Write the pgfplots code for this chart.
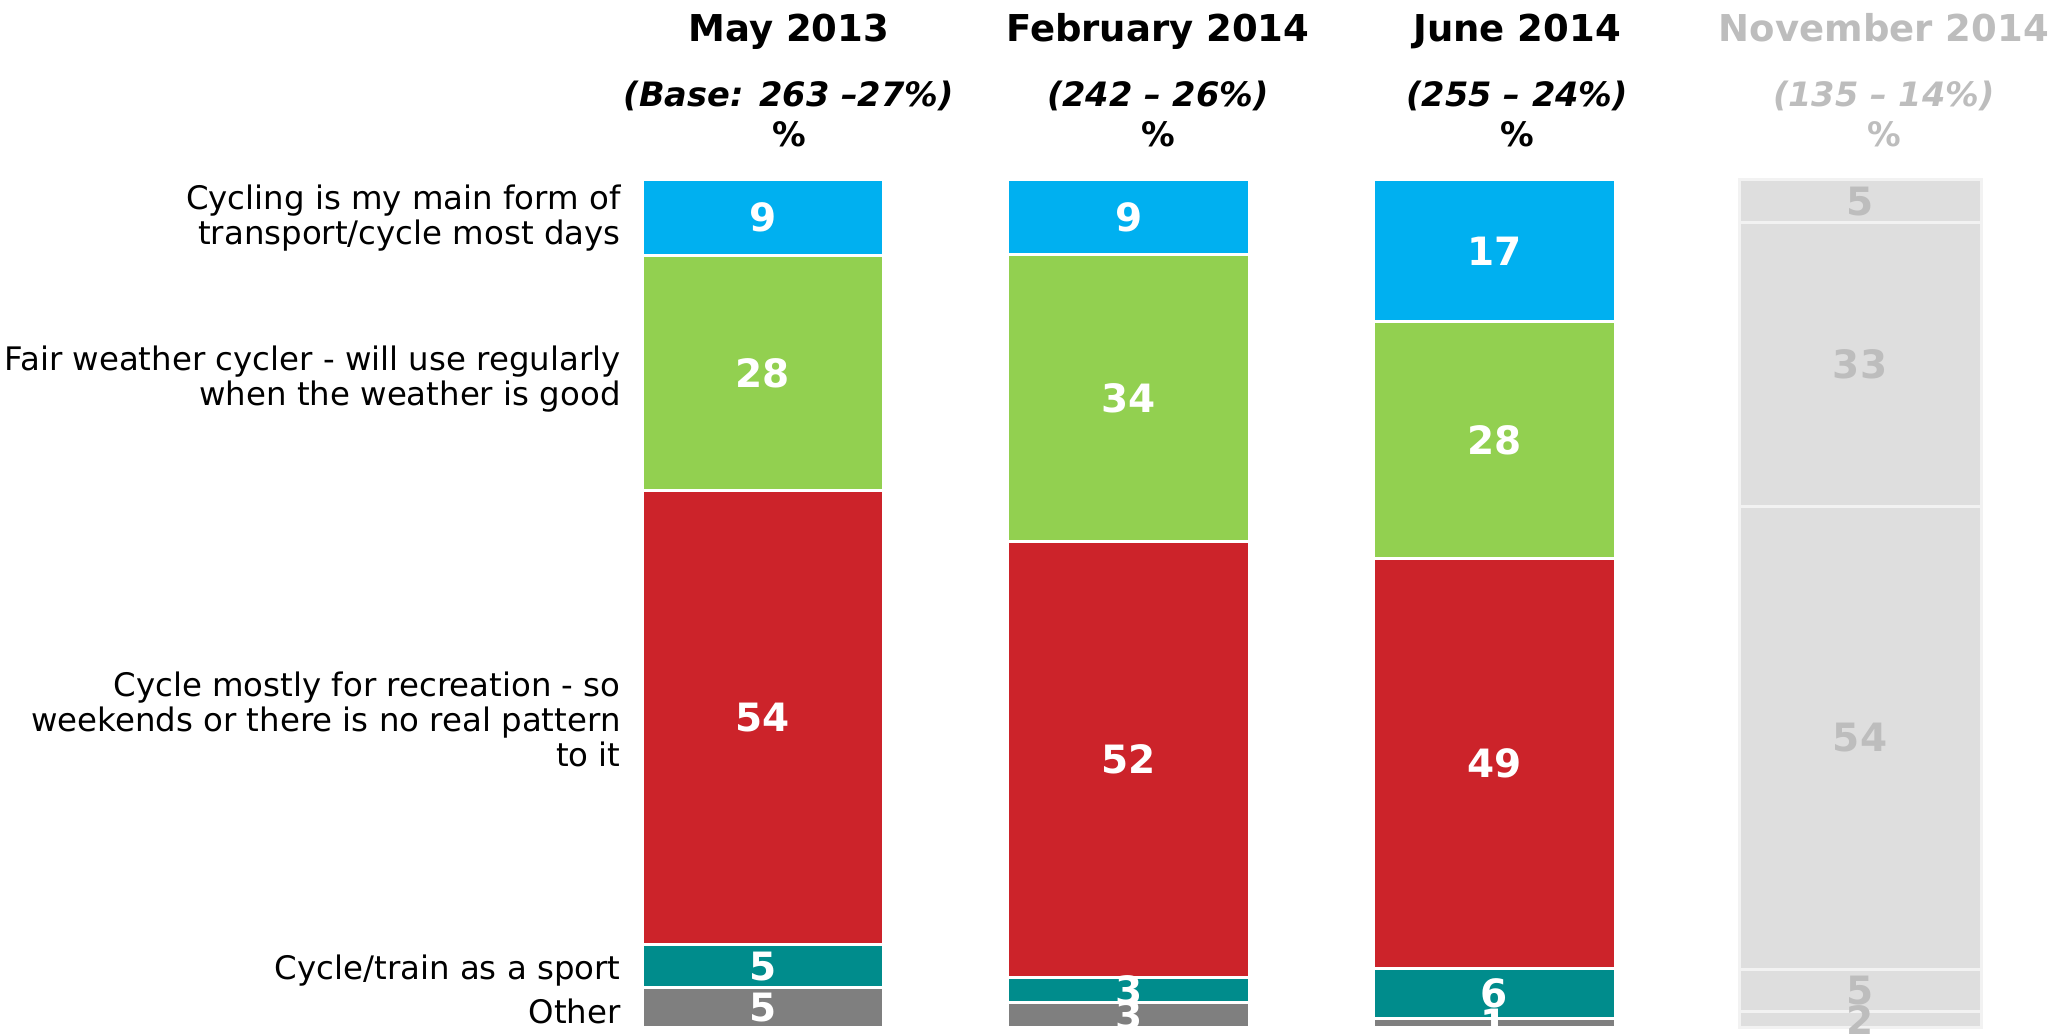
\documentclass[border=0pt]{standalone}
\usepackage{pgfplots}
\pgfplotsset{compat=1.18}
\usepackage{pgfplotstable}
\usepackage{fontspec}
\setmainfont{DejaVu Sans}
\definecolor{cblue}{HTML}{00B0F0}
\definecolor{cgreen}{HTML}{92D050}
\definecolor{cred}{HTML}{CC232A}
\definecolor{cteal}{HTML}{008C8C}
\definecolor{cgray}{HTML}{7F7F7F}
\definecolor{nfill}{HTML}{DEDEDE}
\definecolor{ntext}{HTML}{BDBDBD}
\definecolor{nline}{HTML}{F2F2F2}

% o=Other, s=Sport, r=Recreation, f=Fair weather, m=Main transport
\pgfplotstableread{
x o s r f m
0 4.8 5.0 53.6 27.7 8.9
1 3.0 3.0 51.4 33.8 8.9
2 1.1 5.9 48.4 27.9 16.7
}\dataA
\pgfplotstableread{
x o s r f m
3 1.9 5.0 54.6 33.5 5.0
}\dataNov
% printed labels at the middle of each segment
\pgfplotstableread{
x c lbl
0 2.4 5
1 1.5 3
2 0.55 1
0 7.3 5
1 4.5 3
2 4.05 6
0 36.6 54
1 31.7 52
2 31.2 49
0 77.25 28
1 74.3 34
2 69.35 28
0 95.55 9
1 95.65 9
2 91.65 17
}\labA
\pgfplotstableread{
x c lbl
3 0.95 2
3 4.4 5
3 34.2 54
3 78.25 33
3 97.5 5
}\labNov

\pgfplotsset{
  base/.style={scale only axis, width=731.5pt, height=424pt,
    xmin=-0.5, xmax=3.5, ymin=0, ymax=100, hide axis, clip=false,
    at={(290pt,4pt)}, anchor=south west},
  bars/.style={base, ybar stacked, bar width=0.661},
  seg/.style 2 args={fill=#1, draw=#2, line width=1.5pt},
  lab/.style={only marks, mark=none, nodes near coords, point meta=explicit symbolic,
    every node near coord/.style={anchor=center, inner sep=0pt, text=#1,
      font=\bfseries\fontsize{19.5}{22}\selectfont}},
}

\begin{document}
\begin{tikzpicture}
\path[use as bounding box] (0,0) rectangle (1035.5pt,518pt);
\begin{axis}[bars]
\addplot[seg={cgray}{white}] table[x=x,y=o]{\dataA};
\addplot[seg={cteal}{white}] table[x=x,y=s]{\dataA};
\addplot[seg={cred}{white}] table[x=x,y=r]{\dataA};
\addplot[seg={cgreen}{white}] table[x=x,y=f]{\dataA};
\addplot[seg={cblue}{white}] table[x=x,y=m]{\dataA};
\end{axis}

\begin{axis}[bars]
\addplot[seg={nfill}{nline}] table[x=x,y=o]{\dataNov};
\addplot[seg={nfill}{nline}] table[x=x,y=s]{\dataNov};
\addplot[seg={nfill}{nline}] table[x=x,y=r]{\dataNov};
\addplot[seg={nfill}{nline}] table[x=x,y=f]{\dataNov};
\addplot[seg={nfill}{nline}] table[x=x,y=m]{\dataNov};
\end{axis}

\begin{axis}[base]
\addplot[lab=white] table[x=x,y=c,meta=lbl]{\labA};
\addplot[lab=ntext] table[x=x,y=c,meta=lbl]{\labNov};

% titles
\begin{scope}[every node/.style={anchor=base}]
\node[font=\bfseries\fontsize{18.5}{21}\selectfont] at (axis cs:0.071,116.3) {May 2013};
\node[font=\bfseries\fontsize{18.5}{21}\selectfont] at (axis cs:1.080,116.3) {February 2014};
\node[font=\bfseries\fontsize{18.5}{21}\selectfont] at (axis cs:2.062,116.3) {June 2014};
\node[font=\bfseries\fontsize{18.5}{21}\selectfont, text=ntext] at (axis cs:3.065,116.3) {November 2014};
\node[font=\bfseries\itshape\fontsize{16.8}{19}\selectfont] at (axis cs:0.071,108.7) {(Base: 263 –27\%)};
\node[font=\bfseries\itshape\fontsize{16.8}{19}\selectfont] at (axis cs:1.080,108.7) {(242 – 26\%)};
\node[font=\bfseries\itshape\fontsize{16.8}{19}\selectfont] at (axis cs:2.062,108.7) {(255 – 24\%)};
\node[font=\bfseries\itshape\fontsize{16.8}{19}\selectfont, text=ntext] at (axis cs:3.065,108.7) {(135 – 14\%)};
\node[font=\bfseries\fontsize{16.8}{19}\selectfont] at (axis cs:0.071,103.9) {\%};
\node[font=\bfseries\fontsize{16.8}{19}\selectfont] at (axis cs:1.080,103.9) {\%};
\node[font=\bfseries\fontsize{16.8}{19}\selectfont] at (axis cs:2.062,103.9) {\%};
\node[font=\bfseries\fontsize{16.8}{19}\selectfont, text=ntext] at (axis cs:3.065,103.9) {\%};
\end{scope}

% category labels
\begin{scope}[every node/.style={anchor=east, align=right, inner sep=0pt, font=\fontsize{16.2}{17.5}\selectfont}]
\node at (axis cs:-0.388,95.5) {Cycling is my main form of\\transport/cycle most days};
\node at (axis cs:-0.388,76.5) {Fair weather cycler - will use regularly\\when the weather is good};
\node at (axis cs:-0.388,36.4) {Cycle mostly for recreation - so\\weekends or there is no real pattern\\to it};
\node at (axis cs:-0.388,6.8) {Cycle/train as a sport};
\node at (axis cs:-0.388,1.9) {Other};
\end{scope}
\end{axis}
\end{tikzpicture}
\end{document}
